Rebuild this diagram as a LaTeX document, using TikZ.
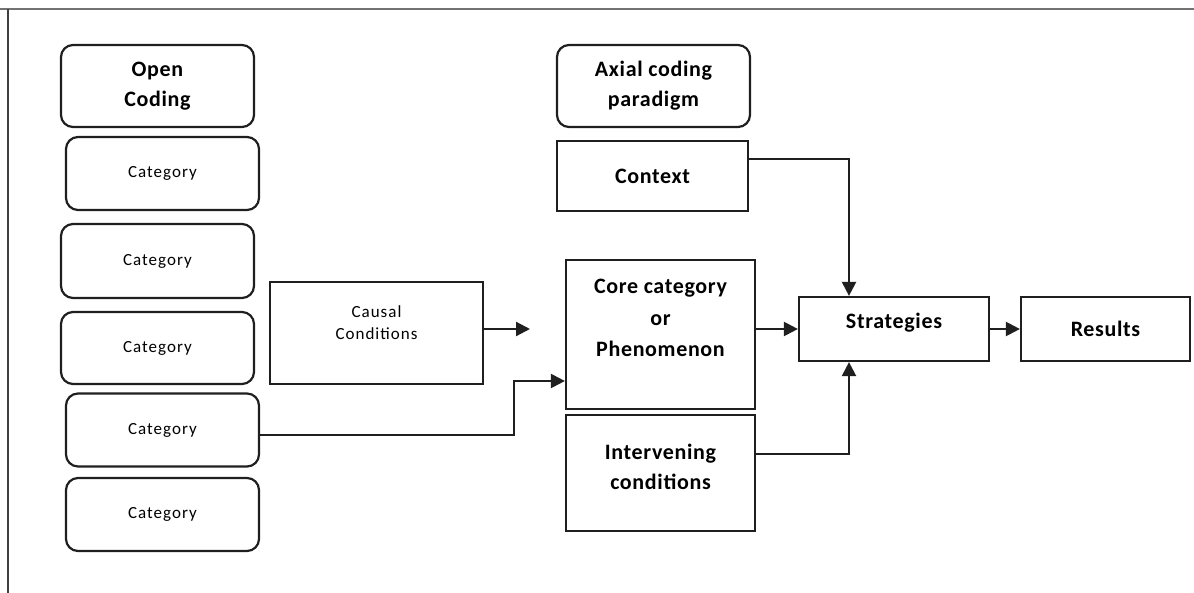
\documentclass[tikz,border=0pt]{standalone}
\usepackage{fontspec}
\setmainfont{Carlito}
\newfontfamily\boldlab[LetterSpace=3]{Carlito Bold}
\newfontfamily\reglab[LetterSpace=6]{Carlito}
\usetikzlibrary{arrows.meta}
\begin{document}
\begin{tikzpicture}[x=1pt,y=-1pt,
  box/.style={draw=black!88, line width=2.2pt, inner sep=0pt, align=center},
  rbox/.style={box, rounded corners=12pt},
  big/.style={font=\boldlab\fontsize{22}{30}\selectfont},
  small/.style={font=\reglab\fontsize{17}{22}\selectfont},
  conn/.style={line width=2.2pt, draw=black!88, -{Triangle[length=14pt,width=14pt]}},
  frame/.style={line width=2.4pt, draw=black!55}
]
\useasboundingbox (0,0) rectangle (1194,593);
% frame
\coordinate (ftl) at (8,9);
\coordinate (ftr) at (1194,9);
\coordinate (fbl) at (8,593);
\draw[frame] (0,9) -- (ftr);
\draw[line width=1.8pt, draw=black!75] (ftl) -- (fbl);

% left column
\node[rbox, big, minimum width=193pt, minimum height=82pt] (open) at (157.5,86) {Open\\Coding};
\node[rbox, small, minimum width=193pt, minimum height=73pt] (cat1) at (162.5,173.5) {Category};
\node[rbox, small, minimum width=193pt, minimum height=74pt] (cat2) at (157.5,261) {Category};
\node[rbox, small, minimum width=193pt, minimum height=72pt] (cat3) at (157.5,348) {Category};
\node[rbox, small, minimum width=193pt, minimum height=73pt] (cat4) at (162.5,430) {Category};
\node[rbox, small, minimum width=193pt, minimum height=73pt] (cat5) at (162.5,514.5) {Category};

% causal
\node[box, minimum width=213pt, minimum height=102pt] (causal) at (376.5,333) {};
\node[small, align=center] (causalt) at (376.5,323) {Causal\\Conditions};

% middle column
\node[rbox, big, minimum width=193pt, minimum height=82pt] (axial) at (653.5,86) {Axial coding\\paradigm};
\node[box, big, minimum width=191pt, minimum height=70pt] (context) at (652.5,176) {Context};
\node[box, minimum width=189pt, minimum height=149pt] (core) at (660.5,334.5) {};
\node[big, align=center, font=\boldlab\fontsize{22}{31.5}\selectfont] (coret) at (660.5,318) {Core category\\or\\Phenomenon};
\node[box, minimum width=189pt, minimum height=116pt] (interv) at (660.5,473) {};
\node[big, align=center] (intervt) at (660.5,467) {Intervening\\conditions};

% right
\node[box, minimum width=190pt, minimum height=64pt] (strat) at (894,329) {};
\node[big] (stratt) at (894,323) {Strategies};
\node[box, big, minimum width=169pt, minimum height=64pt] (results) at (1105.5,329) {Results};

% connectors
\coordinate (caend) at (530,329);
\draw[conn] (causal.east |- caend) -- (caend);
\draw[conn] (core.east |- strat.west) -- (strat.west);
\draw[conn] (strat.east) -- (results.west);
\draw[conn] ([yshift=-5pt]cat4.east) -| (514,381) -- (core.west |- 0,381);
\draw[conn] ([yshift=17pt]context.east) -| (strat.north -| 849,0);
\draw[conn] ([yshift=19pt]interv.east) -| (strat.south -| 849,0);
\end{tikzpicture}
\end{document}
